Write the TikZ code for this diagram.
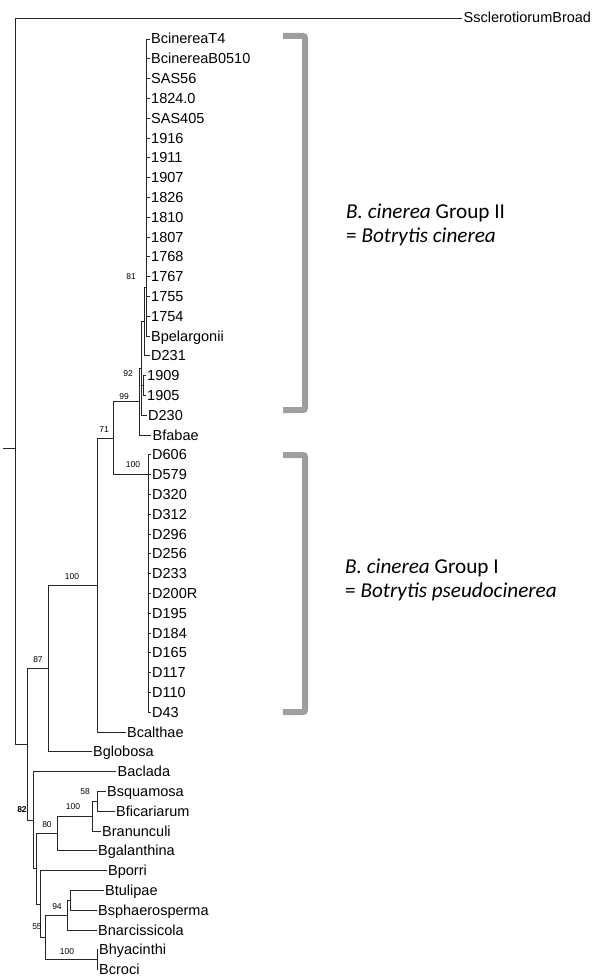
\documentclass[tikz,border=0pt]{standalone}
\usepackage{fontspec}
\setmainfont{Liberation Sans}
\newfontfamily\grpfont{Carlito}

\tikzset{
  br/.style={line width=0.8pt, black!85},
  leaf/.style={anchor=west, inner sep=1.5pt, text height=10pt, text depth=0pt, font=\fontsize{14.5}{14.5}\selectfont},
  sup/.style={inner sep=0pt, font=\fontsize{8.5}{8.5}\selectfont},
  brack/.style={line width=6pt, black!38, rounded corners=2pt},
  grp/.style={anchor=west, align=left, inner sep=0pt, font=\grpfont\fontsize{21.2}{24}\selectfont},
}

\begin{document}
\begin{tikzpicture}[x=1pt,y=-1pt]
\useasboundingbox (0,0) rectangle (599,979);
% Root and outgroup
\coordinate (stub) at (3,448);
\coordinate (rt) at (15,448);
\draw[br] (stub) -- (rt);
\node[leaf] (sscl) at (462,18) {SsclerotiorumBroad};
\draw[br] (rt) |- (sscl.west);
% Inner nodes, x is branch length
\coordinate (x27) at (27,744.3);
\coordinate (x48) at (48,668.4);
\coordinate (x97) at (97,585);
\coordinate (x113) at (113,438);
\coordinate (x139) at (139,401.5);
\coordinate (g2) at (141,368);
\coordinate (n81) at (144,321);
\coordinate (c1) at (146,287);
\coordinate (n92) at (143,385.5);
\coordinate (gi) at (148,474.6);
\coordinate (x35) at (33,820.2);
\coordinate (x37) at (36,868.7);
\coordinate (x57) at (57,833.4);
\coordinate (n100) at (92,816);
\coordinate (n58) at (97,801.3);
\coordinate (x43) at (40,904);
\coordinate (x45) at (45,937.4);
\coordinate (n94) at (67,915.2);
\coordinate (ntul) at (70,900.3);
\coordinate (n100b) at (97,959.7);
\draw[br] (rt) |- (x27);
\draw[br] (x27) |- (x48);
\draw[br] (x27) |- (x35);
\draw[br] (x48) |- (x97);
\draw[br] (x97) |- (x113);
\draw[br] (x113) |- (x139);
\draw[br] (x113) |- (gi);
\draw[br] (x139) |- (g2);
\draw[br] (g2) |- (n81);
\draw[br] (g2) |- (n92);
\draw[br] (n81) |- (c1);
\draw[br] (x35) |- (x37);
\draw[br] (x37) |- (x57);
\draw[br] (x37) |- (x43);
\draw[br] (x57) |- (n100);
\draw[br] (n100) |- (n58);
\draw[br] (x43) |- (x45);
\draw[br] (x45) |- (n94);
\draw[br] (n94) |- (ntul);
\draw[br] (x45) |- (n100b);
% B. cinerea Group II
\foreach \nm/\lab [count=\i from 0] in {t4/BcinereaT4, b0510/BcinereaB0510, sas56/SAS56, s1824/1824.0,
    sas405/SAS405, s1916/1916, s1911/1911, s1907/1907, s1826/1826, s1810/1810, s1807/1807,
    s1768/1768, s1767/1767, s1755/1755, s1754/1754, bpel/Bpelargonii}
  {\node[leaf] (\nm) at (149.5,39+19.8*\i) {\lab};
   \draw[br] (c1) |- (\nm.west);}
\node[leaf] (d231) at (149.5,355.8) {D231};
\node[leaf] (s1909) at (145.5,375.6) {1909};
\node[leaf] (s1905) at (145.5,395.4) {1905};
\node[leaf] (d230) at (146.5,415.2) {D230};
\node[leaf] (bfab) at (151,435) {Bfabae};
\draw[br] (n81) |- (d231.west);
\draw[br] (n92) |- (s1909.west);
\draw[br] (n92) |- (s1905.west);
\draw[br] (g2) |- (d230.west);
\draw[br] (x139) |- (bfab.west);
% B. cinerea Group I
\foreach \nm [count=\i from 21] in {D606, D579, D320, D312, D296, D256, D233, D200R,
    D195, D184, D165, D117, D110, D43}
  {\node[leaf] (\nm) at (150.5,39+19.8*\i) {\nm};
   \draw[br] (gi) |- (\nm.west);}
% Other Botrytis species
\node[leaf] (bcal) at (125.5,732) {Bcalthae};
\node[leaf] (bglo) at (91.5,751.8) {Bglobosa};
\node[leaf] (bacl) at (116,771.6) {Baclada};
\node[leaf] (bsqu) at (105.5,791.4) {Bsquamosa};
\node[leaf] (bfic) at (114.5,811.2) {Bficariarum};
\node[leaf] (bran) at (100.5,831) {Branunculi};
\node[leaf] (bgal) at (96.5,850.8) {Bgalanthina};
\node[leaf] (bpor) at (106.5,870.6) {Bporri};
\node[leaf] (btul) at (103.5,890.4) {Btulipae};
\node[leaf] (bsph) at (96.5,910.2) {Bsphaerosperma};
\node[leaf] (bnar) at (96.5,930) {Bnarcissicola};
\node[leaf] (bhya) at (97.5,949.8) {Bhyacinthi};
\node[leaf] (bcro) at (97.5,969.6) {Bcroci};
\draw[br] (x97) |- (bcal.west);
\draw[br] (x48) |- (bglo.west);
\draw[br] (x35) |- (bacl.west);
\draw[br] (n58) |- (bsqu.west);
\draw[br] (n58) |- (bfic.west);
\draw[br] (n100) |- (bran.west);
\draw[br] (x57) |- (bgal.west);
\draw[br] (x43) |- (bpor.west);
\draw[br] (ntul) |- (btul.west);
\draw[br] (ntul) |- (bsph.west);
\draw[br] (n94) |- (bnar.west);
\draw[br] (n100b) |- (bhya.west);
\draw[br] (n100b) |- (bcro.west);
% Bootstrap values
\node[sup] (s81) at (131,277) {81};
\node[sup] (s92) at (128,374) {92};
\node[sup] (s99) at (124,397) {99};
\node[sup] (s71) at (104,430) {71};
\node[sup] (s100a) at (133,465) {100};
\node[sup] (s100b) at (72,577) {100};
\node[sup] (s87) at (38,660) {87};
\node[sup,font=\bfseries\fontsize{8.5}{8.5}\selectfont] (s82) at (22,810) {82};
\node[sup] (s58) at (85,792) {58};
\node[sup] (s100c) at (73,807) {100};
\node[sup] (s80) at (47,825) {80};
\node[sup] (s94) at (57,907) {94};
\node[sup] (s55) at (37,927) {55};
\node[sup] (s100d) at (67,952) {100};
% Group brackets
\draw[brack] (283,36) -- (305,36) -- (305,410) -- (283,410);
\draw[brack] (283,455) -- (305,455) -- (305,712) -- (283,712);
\node[grp] (grp2) at (346,225) {\textit{B. cinerea} Group II\\= \textit{Botrytis cinerea}};
\node[grp] (grp1) at (345,579.5) {\textit{B. cinerea} Group I\\= \textit{Botrytis pseudocinerea}};
\end{tikzpicture}
\end{document}
